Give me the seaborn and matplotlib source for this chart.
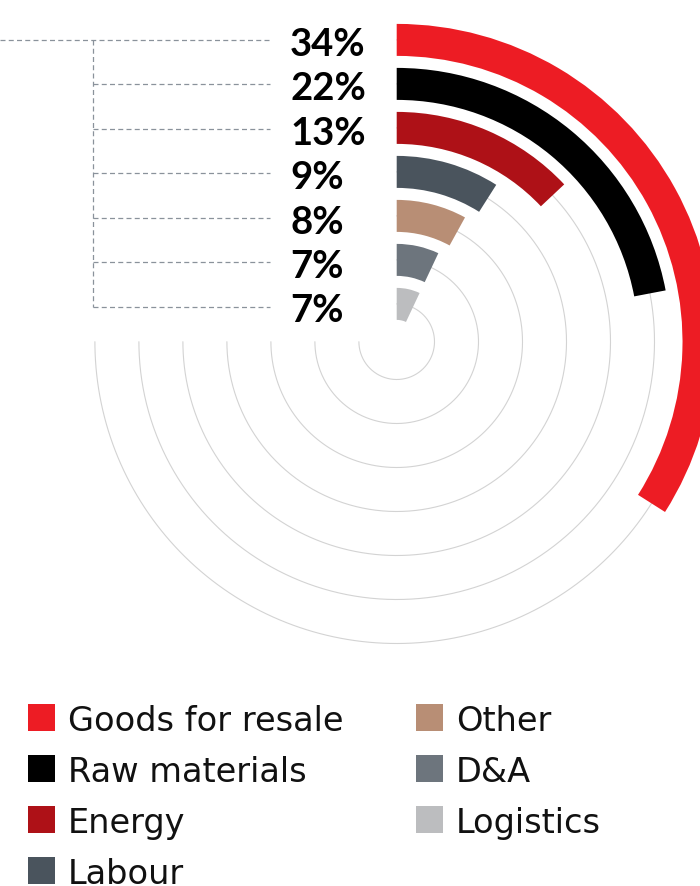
import numpy as np
import matplotlib
matplotlib.use("Agg")
import matplotlib.pyplot as plt
from matplotlib.patches import Rectangle
import seaborn as sns

# Cost structure: share of each cost category, in percent
categories = ["Goods for resale", "Raw materials", "Energy", "Labour",
              "Other", "D&A", "Logistics"]
shares = [34, 22, 13, 9, 8, 7, 7]
colors = ["#ED1C24", "#000000", "#AE1117", "#4A545D",
          "#B88E75", "#6D757D", "#BCBDBF"]

sns.set_theme(style="white")
plt.rcParams["font.family"] = ["DejaVu Sans"]

W, H, DPI = 700, 886, 100
fig = plt.figure(figsize=(W / DPI, H / DPI), dpi=DPI)
fig.patch.set_facecolor("white")

# ring layout (pixels)
CX, CY = 396.7, 341.7          # centre of the rings, measured from the top
R0, STEP, BAR = 37.8, 44.0, 32.0
RMAX = 330.0

ax = fig.add_axes([(CX - RMAX) / W, (H - CY - RMAX) / H,
                   2 * RMAX / W, 2 * RMAX / H], projection="polar")
ax.set_theta_zero_location("N")
ax.set_theta_direction(-1)
ax.set_ylim(0, RMAX)
ax.set_axis_off()

n = len(categories)
radii = np.array([R0 + STEP * (n - 1 - i) for i in range(n)])

# thin three-quarter guide rings behind each bar
guide = np.linspace(0, 1.5 * np.pi, 600)
for r in radii:
    ax.plot(guide, np.full_like(guide, r), color="#D3D3D3", lw=0.8, zorder=1)

# radial bars: angle proportional to the share
ax.bar(x=np.zeros(n), height=BAR, width=np.deg2rad(np.array(shares) * 3.6),
       bottom=radii - BAR / 2, align="edge", color=colors, linewidth=0, zorder=2)

# overlay in pixel coordinates for leader lines, labels and legend
ov = fig.add_axes([0, 0, 1, 1], facecolor="none")
ov.set_xlim(0, W)
ov.set_ylim(H, 0)
ov.set_axis_off()

LABEL_TOP, LABEL_PITCH = 39.5, 44.5
rows_y = [LABEL_TOP + LABEL_PITCH * i for i in range(n)]
STEM_X, LINE_END, LABEL_X = 93, 270, 290
dash = dict(color="#8A929B", lw=0.9, linestyle=(0, (4, 2.6)))
ov.plot([0, LINE_END], [rows_y[0]] * 2, **dash)
for y in rows_y[1:]:
    ov.plot([STEM_X, LINE_END], [y, y], **dash)
ov.plot([STEM_X, STEM_X], [rows_y[0], rows_y[-1]], **dash)

for y, v in zip(rows_y, shares):
    ov.text(LABEL_X, y + 16, f"{v}%", ha="left", va="baseline",
            fontsize=27.5, fontweight="bold", family=["Lato", "DejaVu Sans"],
            color="black")

# legend: two columns, four then three entries
LEG_X = [28, 416]
LEG_TOP, LEG_PITCH, SW = 704, 51, 27
for i, (name, col) in enumerate(zip(categories, colors)):
    c, row = (0, i) if i < 4 else (1, i - 4)
    x, y = LEG_X[c], LEG_TOP + row * LEG_PITCH
    ov.add_patch(Rectangle((x, y), SW, SW, facecolor=col, linewidth=0))
    ov.text(x + 40, y + SW, name, ha="left", va="baseline",
            fontsize=24.2, color="#111111")

fig.savefig("out.png", dpi=DPI, facecolor="white")
